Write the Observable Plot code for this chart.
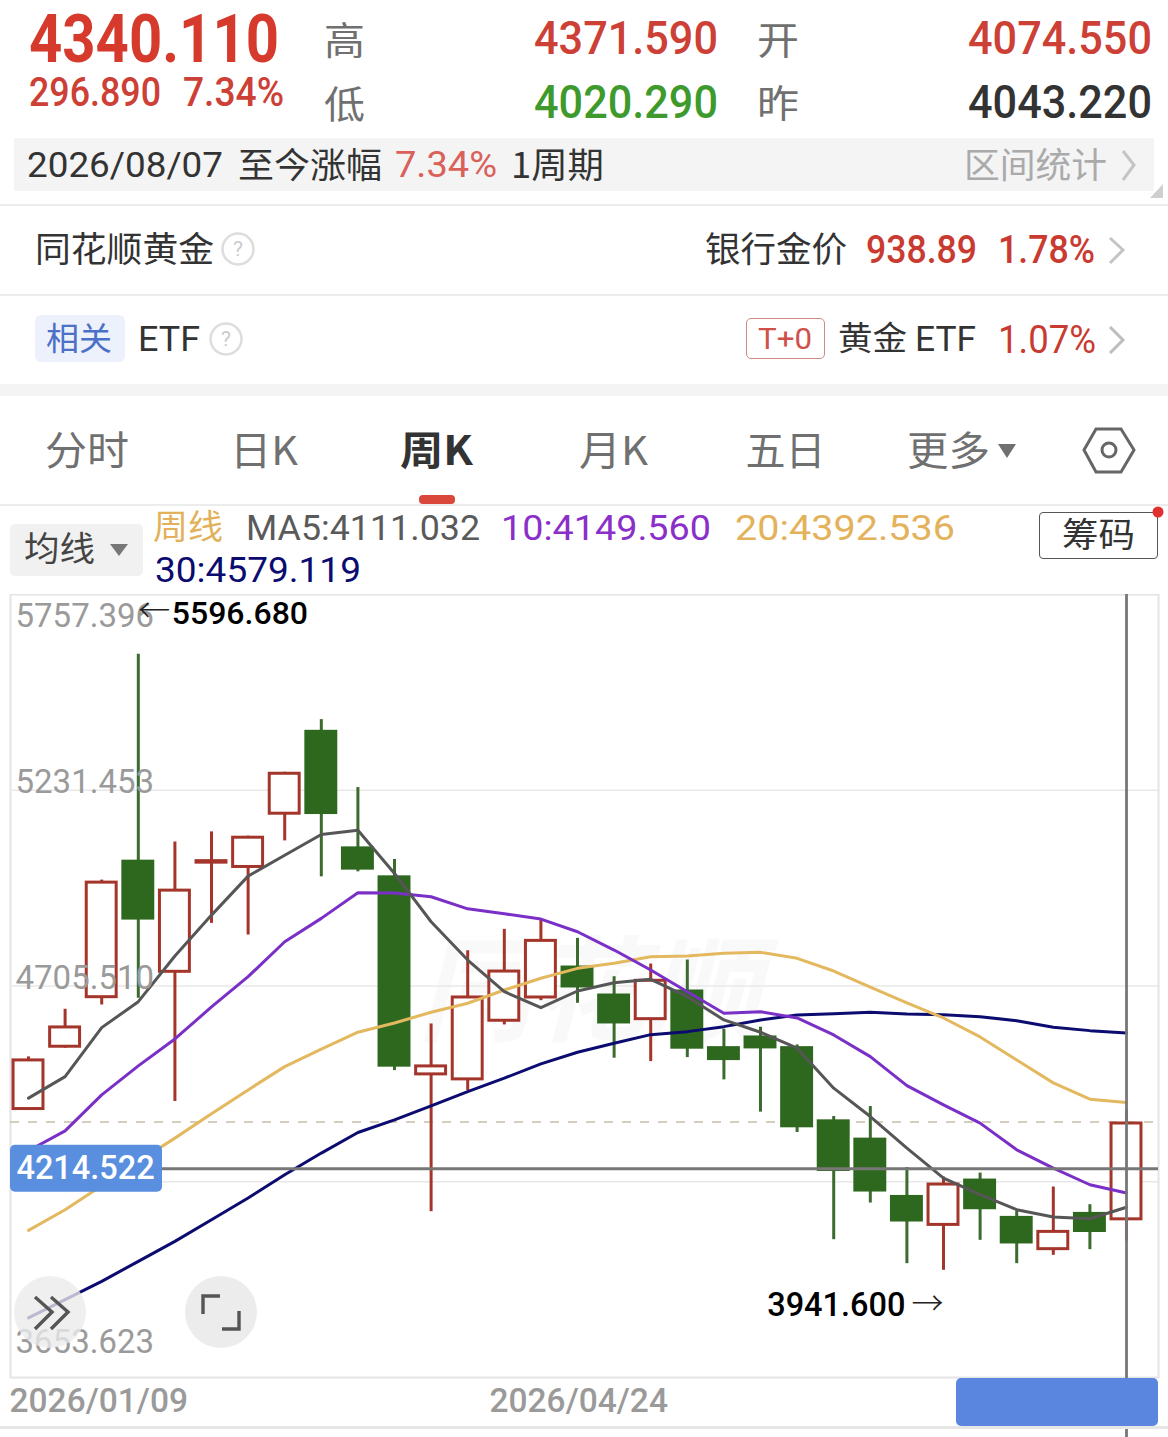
<!DOCTYPE html>
<html lang="zh">
<head>
<meta charset="utf-8">
<script src="https://cdn.jsdelivr.net/npm/d3@7"></script>
<script src="https://cdn.jsdelivr.net/npm/@observablehq/plot@0.6"></script>
<style>
html,body{margin:0;padding:0;background:#fff;overflow:hidden}
#root{position:relative;width:1168px;height:1437px;overflow:hidden;background:#fff}
.t{position:absolute;white-space:nowrap;transform-origin:0 50%}
.b{position:absolute}
svg.ov{position:absolute;left:0;top:0;pointer-events:none}
</style>
</head>
<body>
<div id="root"></div>
<script>
// ---------- data ----------
const weekDates = ["2026-01-09","2026-01-16","2026-01-23","2026-01-30","2026-02-06","2026-02-13","2026-02-20","2026-02-27","2026-03-06","2026-03-13","2026-03-20","2026-03-27","2026-04-03","2026-04-10","2026-04-17","2026-04-24","2026-05-01","2026-05-08","2026-05-15","2026-05-22","2026-05-29","2026-06-05","2026-06-12","2026-06-19","2026-06-26","2026-07-03","2026-07-10","2026-07-17","2026-07-24","2026-07-31","2026-08-07"];
const opens  = [4370.9,4538.3,4671.4,5043.6,4739.6,5032.9,5021.3,5164.4,5392.5,5079.3,5001.5,4464.0,4450.6,4608.1,4670.6,4759.2,4684.0,4612.4,4694.8,4542.6,4571.3,4542.6,4345.9,4296.8,4142.8,4059.6,4186.8,4086.5,3994.4,4097.2,4074.55];
const closes = [4509.6,4598.2,4987.3,4882.6,4965.8,5045.0,5108.0,5279.8,5166.2,5016.8,4487.4,4493.5,4678.7,4748.4,4830.8,4700.2,4603.5,4723.5,4535.7,4505.1,4536.5,4324.5,4207.2,4151.9,4071.4,4176.1,4104.4,4012.4,4048.9,4043.22,4340.11];
const highs  = [4515.0,4643.0,4990.0,5596.68,5092.7,5119.6,5108.0,5279.8,5421.2,5238.7,5045.5,4603.5,4800.2,4857.7,4884.5,4833.5,4730.5,4764.5,4775.3,4589.3,4594.7,4547.2,4354.8,4381.6,4217.9,4192.2,4202.9,4099.9,4165.4,4117.9,4371.59];
const lows   = [4370.9,4538.3,4654.5,4672.5,4395.0,4873.8,4842.4,5095.4,4998.8,5012.2,4478.2,4099.1,4424.6,4600.9,4666.1,4659.1,4511.5,4502.4,4513.1,4453.3,4366.6,4311.9,4023.9,4122.4,3959.5,3941.6,4022.1,3959.5,3981.8,3997.1,4020.29];
const ma5  = [4404.2,4462.1,4593.6,4663.4,4786.0,4896.0,5000.7,5057.0,5112.6,5124.1,5007.9,4878.1,4775.3,4690.2,4647.3,4692.1,4714.4,4723.5,4676.8,4614.3,4581.3,4538.4,4431.0,4354.8,4270.0,4189.5,4144.7,4104.4,4084.8,4080.3,4111.032];
const ma10 = [4262.8,4316.4,4413.0,4490.8,4563.3,4649.2,4730.5,4824.4,4887.2,4955.9,4955.1,4945.2,4912.9,4899.5,4885.3,4851.2,4802.1,4748.4,4690.2,4632.3,4636.5,4619.6,4574.0,4515.8,4438.0,4386.2,4337.1,4265.4,4216.4,4171.5,4149.56];
const ma20 = [4048.9,4104.4,4168.8,4234.1,4296.8,4362.0,4426.4,4488.9,4535.7,4581.3,4606.2,4634.9,4659.1,4694.8,4726.2,4753.0,4766.4,4784.2,4786.0,4793.3,4795.9,4779.8,4745.8,4702.8,4659.9,4619.6,4568.7,4506.9,4445.2,4401.5,4392.536];
const ma30 = [3813.8,3862.9,3912.0,3965.7,4019.4,4077.6,4135.8,4198.4,4256.6,4311.9,4345.9,4383.5,4421.9,4457.8,4496.2,4527.6,4551.8,4574.8,4582.9,4596.3,4614.3,4627.7,4631.2,4634.9,4630.4,4628.5,4623.2,4612.4,4594.7,4585.6,4579.119];
const gridValues = [5231.453,4705.51,4179.567];
const axisTop = 5757.396, axisBottom = 3653.623;
const lastPrice = 4340.11, crossPrice = 4214.522;
const xTickDates = ["2026-01-09","2026-04-24"];

// ---------- chart ----------
const WEEK = 7*864e5;
const dates = weekDates.map(d => new Date(d+"T00:00:00Z"));
const candles = dates.map((date,i)=>({date,open:opens[i],close:closes[i],high:highs[i],low:lows[i],up:closes[i]>opens[i]}));
const lineData = (vals)=>vals.map((v,i)=>({date:dates[i],v}));
const RED="#a4352b", GREEN="#2e681f", GREENW="#3b6b2e";
const off = (d,k)=>new Date(+d+k*WEEK);
const t0 = dates[0], tEnd = dates[30];
const FONT = "Roboto, 'Noto Sans CJK SC', sans-serif";
const AX = {anchor:"left",tickSize:0,tickPadding:0,textAnchor:"start",dx:5,fontSize:33,fill:"#9a9a9a",tickFormat:d=>d.toFixed(3),label:null};
const AXX = {anchor:"bottom",tickSize:0,tickPadding:0,dy:11,fontSize:33.5,fontWeight:500,fill:"#9a9a9a",tickFormat:d3.utcFormat("%Y/%m/%d"),label:null};

const chart = Plot.plot({
  width:1168, height:843, marginLeft:10, marginRight:10, marginTop:0, marginBottom:60,
  style:{position:"absolute",left:"0",top:"594px",fontFamily:FONT,background:"transparent",maxWidth:"none"},
  x:{type:"utc",domain:[off(t0,-0.492),off(t0,30.874)]},
  y:{domain:[axisBottom,axisTop]},
  marks:[
    Plot.text([0],{x:()=>off(t0,15.3),y:()=>4681,text:()=>"同花顺",fontSize:114,fontWeight:700,fontStyle:"italic",fill:"#f9f9f9"}),
    Plot.frame({stroke:"#e4e4e4",strokeWidth:2}),
    Plot.ruleY(gridValues,{stroke:"#e8e8e8",strokeWidth:1.5}),
    Plot.axisX([new Date(xTickDates[0]+"T00:00:00Z")],{...AXX,textAnchor:"start",dx:-19}),
    Plot.axisX([new Date(xTickDates[1]+"T00:00:00Z")],{...AXX,dx:1.2}),
    Plot.ruleY([lastPrice],{stroke:"#c8bfa6",strokeWidth:1.6,strokeDasharray:"9,9"}),
    // wicks
    Plot.ruleX(candles,{x:"date",y1:"low",y2:"high",stroke:d=>d.up?RED:GREENW,strokeWidth:3}),
    // bodies
    Plot.rect(candles.filter(d=>!d.up),{x1:d=>off(d.date,-0.45),x2:d=>off(d.date,0.45),y1:"open",y2:"close",fill:GREEN}),
    Plot.rect(candles.filter(d=>d.up),{x1:d=>off(d.date,-0.45),x2:d=>off(d.date,0.45),y1:"open",y2:"close",fill:"#fff",stroke:RED,strokeWidth:3,inset:1.5}),
    // moving averages
    Plot.line(lineData(ma30),{x:"date",y:"v",stroke:"#0b0b70",strokeWidth:3}),
    Plot.line(lineData(ma20),{x:"date",y:"v",stroke:"#e4b85f",strokeWidth:3}),
    Plot.line(lineData(ma10),{x:"date",y:"v",stroke:"#7a2fc6",strokeWidth:3}),
    Plot.line(lineData(ma5),{x:"date",y:"v",stroke:"#565656",strokeWidth:3}),
    // y axis labels sit above the candles
    Plot.axisY([5231.453,4705.51],{...AX,dy:-8}),
    Plot.axisY([axisTop],{...AX,dy:22}),
    Plot.axisY([axisBottom],{...AX,dy:-35.5}),
    // crosshair
    Plot.ruleY([crossPrice],{stroke:"#777",strokeWidth:2.8}),
    Plot.ruleX([tEnd],{stroke:"#777",strokeWidth:2.8,insetBottom:-60}),
    Plot.rect([crossPrice],{x1:()=>off(t0,-0.492),x2:()=>off(t0,3.661),y1:d=>d-63,y2:d=>d+63,fill:"#5a8fe0",rx:5}),
    Plot.text([crossPrice],{x:()=>off(t0,1.56),y:d=>d,text:d=>d.toFixed(3),fill:"#fff",fontSize:32.5,fontWeight:500}),
    // extremes
    Plot.text([candles[3]],{x:"date",y:"high",text:()=>"←",textAnchor:"start",dy:-43,fontSize:32,fontWeight:300,fill:"#222",fontFamily:"'Noto Sans CJK SC'"}),
    Plot.text([candles[3]],{x:"date",y:"high",text:d=>d.high.toFixed(3),textAnchor:"start",dx:33.5,dy:-41,fontSize:32,fontWeight:500,fill:"#000"}),
    Plot.text([candles[25]],{x:"date",y:"low",text:()=>"→",textAnchor:"end",dy:34,fontSize:32,fontWeight:300,fill:"#222",fontFamily:"'Noto Sans CJK SC'"}),
    Plot.text([candles[25]],{x:"date",y:"low",text:d=>d.low.toFixed(3),textAnchor:"end",dx:-38,dy:35.5,fontSize:32.5,fontWeight:500,fill:"#000"})
  ]
});
const root = document.getElementById("root");
root.appendChild(chart);

// ---------- page furniture ----------
function box(x0,y0,x1,y1,css){const d=document.createElement("div");d.className="b";
  d.style.cssText=`left:${x0}px;top:${y0}px;width:${x1-x0}px;height:${y1-y0}px;${css||""}`;root.appendChild(d);return d;}
const CJK="'Noto Sans CJK SC','Noto Sans',sans-serif", NUM="Roboto,'Noto Sans CJK SC',sans-serif";
function put(text,x0,x1,yc,size,color,weight,font){
  if(font===CJK){x0-=1.5;x1+=1.5;yc-=3;}
  const s=document.createElement("span");s.className="t";s.textContent=text;
  s.style.cssText=`left:${x0}px;top:${yc-size/2}px;font-size:${size}px;line-height:${size}px;color:${color};font-weight:${weight||400};font-family:${font||NUM}`;
  root.appendChild(s);
  const w=s.getBoundingClientRect().width;
  s.style.transform=`scaleX(${(x1-x0)/w})`;
}
const R1="#d63a2c",R2="#cc4036",G1="#3f9a2e",D="#333",L="#707070";

put("4340.110",29,279,39,67,R1,700);
put("296.890",29,161,93,40,R2,500);
put("7.34%",183,284,93,40,R2,500);
put("高",325,363,41,38,L,400,CJK);
put("低",325,363,105,38,L,400,CJK);
put("4371.590",534,718,38,46,R2,500);
put("4020.290",534,718,102,46,G1,500);
put("开",758,797,41,38,L,400,CJK);
put("昨",758,797,104,38,L,400,CJK);
put("4074.550",968,1152,38,46,R2,500);
put("4043.220",968,1152,102,46,D,500);

box(14,138,1154,191,"background:#f4f4f4");
put("2026/08/07",27,223,165,35,D,400);
put("至今涨幅",239,380,165,35,D,400,CJK);
put("7.34%",395,497,165,36,"#d9615a",400);
put("1周期",512,602,165,35,D,400,CJK);
put("区间统计",965,1105,165,35,"#aaa",400,CJK);

box(0,204,1168,206,"background:#ececec");
put("同花顺黄金",36,212,249,35,D,400,CJK);
put("银行金价",706,845,249,35,D,400,CJK);
put("938.89",866,977,250,38,"#c93a30",500);
put("1.78%",998,1095,250,38,"#c93a30",500);
box(0,294,1168,296,"background:#ececec");

box(35,315,125,362,"background:#edf1fb;border-radius:6px");
put("相关",47,110,339,32,"#4a70c8",400,CJK);
put("ETF",138,200,339,35,D,400);
box(746,318,825,359,"border:1.2px solid #cf8a86;border-radius:5px;box-sizing:border-box");
put("T+0",758,812,339,30,"#d0504a",400);
put("黄金",839,905,339,33,D,400,CJK);
put("ETF",915,976,339,35,D,400);
put("1.07%",998,1096,340,38,"#c93a30",400);
box(0,384,1168,396,"background:#f4f4f4");

put("分时",46,127,451,40,L,400,CJK);
put("日K",231,296,451,40,L,400,CJK);
put("周K",401,471,451,40,D,700,CJK);
put("月K",580,646,451,40,L,400,CJK);
put("五日",747,824,451,40,L,400,CJK);
put("更多",908,988,451,40,L,400,CJK);
box(419,495,455,504,"background:#d9483b;border-radius:4px");
box(0,504,1168,506,"background:#ececec");

box(10,524,143,576,"background:#f1f1f1;border-radius:5px");
put("均线",25,93,550,34,"#444",400,CJK);
put("周线",154,221,528,34,"#e2b15a",400,CJK);
put("MA5:4111.032",246,480,528,35,"#5a5a5a",400);
put("10:4149.560",501,711,528,35,"#8a2fc9",400);
put("20:4392.536",735,955,528,35,"#e3b25a",400);
put("30:4579.119",155,361,570,35,"#0b0b70",400);
box(1039,512,1158,559,"border:1.5px solid #555;border-radius:4px;box-sizing:border-box;background:#fff");
put("筹码",1063,1133,536,34,D,400,CJK);

// date box, lower rule
box(956,1378,1158,1426,"background:#5a86e0;border-radius:5px");
box(0,1426,1168,1429,"background:#e6e6e6");

// icons
const ns="http://www.w3.org/2000/svg";
const ov=document.createElementNS(ns,"svg");ov.setAttribute("class","ov");ov.setAttribute("width",1168);ov.setAttribute("height",1437);
ov.innerHTML=`
<g fill="none" stroke-linejoin="miter" stroke-linecap="butt">
<path d="M1123 151L1134 165L1123 180" stroke="#c4c4c4" stroke-width="3"/>
<path d="M1110 238L1123 250L1110 263" stroke="#c4c4c4" stroke-width="3"/>
<path d="M1110 327L1123 340L1110 353" stroke="#bdbdbd" stroke-width="3"/>
<circle cx="238" cy="249" r="15.5" stroke="#ddd" stroke-width="2.5"/>
<circle cx="226" cy="339" r="15.5" stroke="#ddd" stroke-width="2.5"/>
<path d="M1084 450L1096 429H1121L1134 450L1121 472H1096Z" stroke="#666" stroke-width="3"/>
<circle cx="1109" cy="450" r="7" stroke="#666" stroke-width="3"/>
</g>
<path d="M1150 198H1163V184Z" fill="#cfcfcf"/>
<path d="M998 444H1016L1007 458Z" fill="#707070"/>
<path d="M110 544H128L119 556Z" fill="#777"/>
<circle cx="1158" cy="512" r="5.5" fill="#e03030"/>
<circle cx="50" cy="1312" r="36" fill="#ebebeb" fill-opacity=".78"/>
<circle cx="221" cy="1312" r="36" fill="#ebebeb" fill-opacity=".95"/>
<g fill="none" stroke="#555" stroke-width="3.4">
<path d="M35 1297L52 1312L35 1329M51 1297L68 1312L51 1329"/>
<path d="M203 1314V1296H220M239 1311V1329H222"/>
</g>`;
root.appendChild(ov);
put("?",233,243,249,20,"#ccc",400);
put("?",221,231,339,20,"#ccc",400);
</script>
</body>
</html>
